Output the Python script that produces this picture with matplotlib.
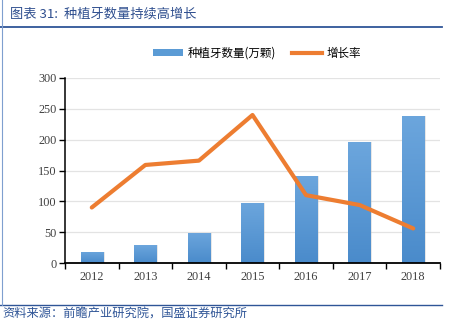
import numpy as np
import matplotlib.pyplot as plt
from matplotlib.lines import Line2D
from matplotlib.patches import Patch
from matplotlib.colors import LinearSegmentedColormap

plt.rcParams["font.family"] = ["Noto Sans CJK SC", "DejaVu Sans"]

years = ["2012", "2013", "2014", "2015", "2016", "2017", "2018"]
implants = [18, 29, 49, 98, 141, 196, 239]      # 种植牙数量(万颗)
growth = [90, 159, 166, 240, 110, 94, 56]       # 增长率

TITLE = "图表 31:  种植牙数量持续高增长"
SOURCE = "资料来源：前瞻产业研究院，国盛证券研究所"
BLUE_TEXT = "#2F4F8F"
LINE_COLOR = "#ED7D31"

fig = plt.figure(figsize=(4.52, 3.34), dpi=100, facecolor="white")
ax = fig.add_axes([65 / 452, 71 / 334, 375 / 452, 185 / 334])

x = np.arange(len(years))
bar_w = 0.42
bars = ax.bar(x, implants, width=bar_w, color="#5B9BD5", zorder=2)

# vertical gradient inside each bar (lighter at top)
grad = np.linspace(0, 1, 256).reshape(-1, 1)
cmap = LinearSegmentedColormap.from_list("bar", ["#4A8BCB", "#6CA6DD"])
for b in bars:
    bx, by = b.get_x(), b.get_y()
    bw, bh = b.get_width(), b.get_height()
    # soft shadow to the right
    ax.bar(bx + bw / 2 + 0.03, bh, width=bw, bottom=0, color="#BBBBBB", alpha=0.35, zorder=1.5)
    im = ax.imshow(grad, cmap=cmap, aspect="auto", origin="lower",
                   extent=[bx, bx + bw, by, by + bh], zorder=2.1)
    im.set_clip_path(b)

ax.plot(x, growth, color=LINE_COLOR, linewidth=3.0, zorder=3, solid_capstyle="round")

ax.set_xlim(-0.5, len(years) - 0.5)
ax.set_ylim(0, 300)
ax.set_yticks(range(0, 301, 50))
ax.set_xticks(x)
ax.set_xticklabels(years)
ax.set_xticks(np.arange(-0.5, len(years), 1), minor=True)
ax.tick_params(axis="x", which="major", length=0, pad=6)
ax.tick_params(axis="x", which="minor", length=4, width=1, color="black")
ax.tick_params(axis="y", length=4, width=1, pad=2)
for lab in ax.get_xticklabels() + ax.get_yticklabels():
    lab.set_fontfamily(["Liberation Serif"])
    lab.set_fontsize(8.8)
    lab.set_color("#404040")

ax.grid(axis="y", color="#E3E3E3", linewidth=0.9, zorder=0)
ax.set_axisbelow(True)
ax.spines[["top", "right"]].set_visible(False)
ax.spines["left"].set_linewidth(1.1)
ax.spines["bottom"].set_linewidth(1.3)

handles = [
    Patch(facecolor="#5B9BD5", edgecolor="none", label="种植牙数量(万颗)"),
    Line2D([0], [0], color=LINE_COLOR, linewidth=3.0, label="增长率"),
]
fig.legend(handles=handles, loc="center", bbox_to_anchor=(257 / 452, 1 - 53 / 334),
           ncol=2, frameon=False, fontsize=8.3, handlelength=2.6, handleheight=0.5,
           columnspacing=1.4, handletextpad=0.4)

# header / footer decorations
fig.text(10 / 452, 1 - 14 / 334, TITLE, fontsize=9.5, color=BLUE_TEXT,
         ha="left", va="center", fontstyle="italic")
fig.add_artist(Line2D([0, 442 / 452], [1 - 27 / 334] * 2, color="#2F5597", linewidth=1.3))
fig.add_artist(Line2D([0, 442 / 452], [1 - 305 / 334] * 2, color="#2F5597", linewidth=1.0))
fig.add_artist(Line2D([2 / 452, 2 / 452], [1 - 305 / 334, 1], color="#7F9FCF", linewidth=0.8))
fig.text(2 / 452, 1 - 314 / 334, SOURCE, fontsize=8.8, color="#2F5597",
         ha="left", va="center", fontstyle="italic")

fig.savefig("out.png", dpi=100, facecolor="white")
